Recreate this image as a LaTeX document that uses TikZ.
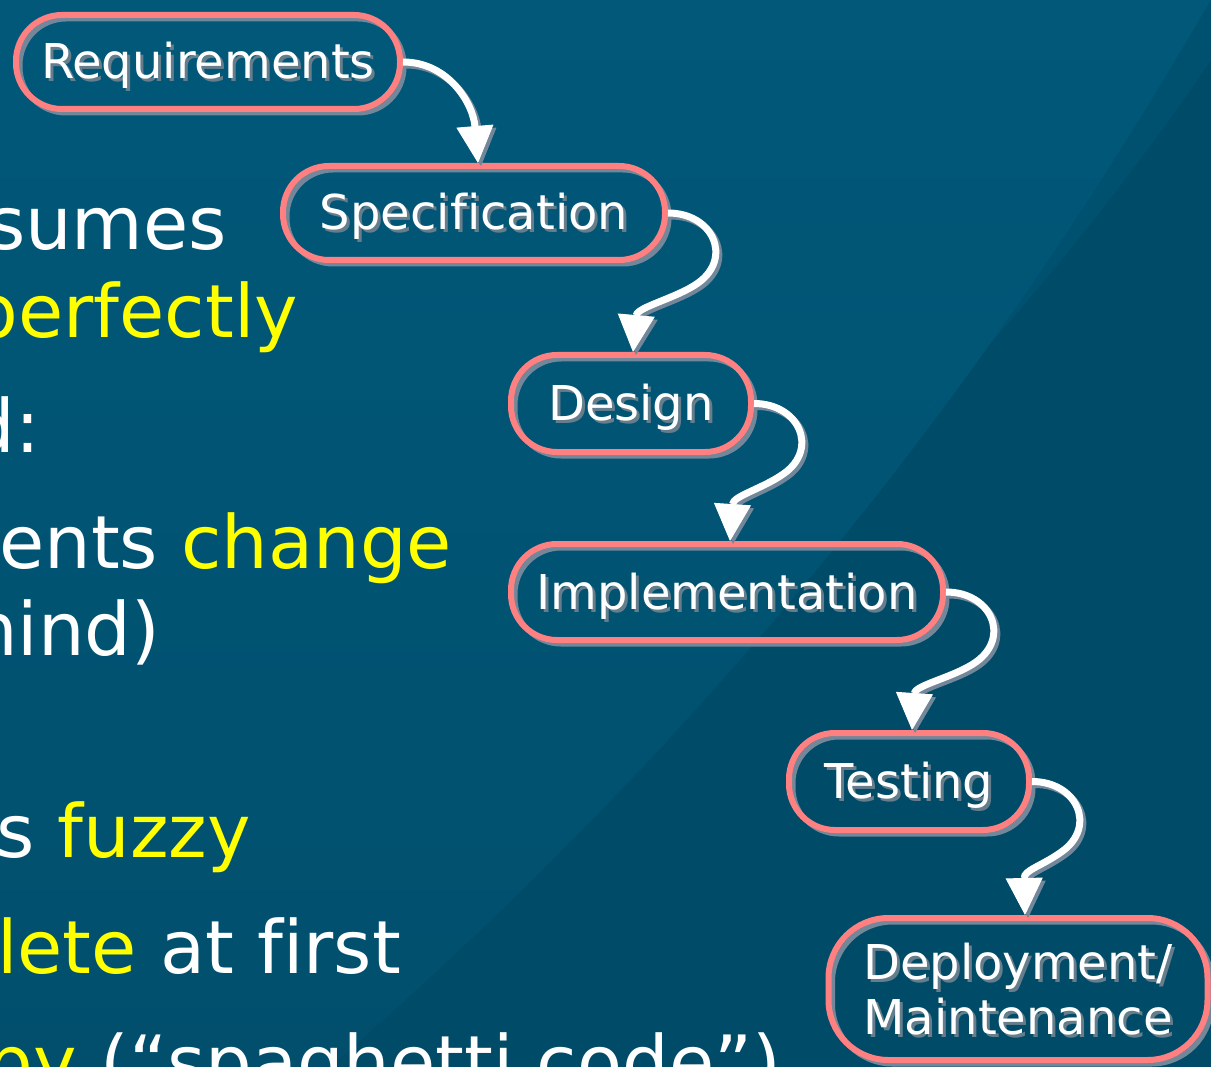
\documentclass[tikz,border=0pt]{standalone}
\usepackage{fontspec}
\setmainfont{DejaVu Sans}[Ligatures=NoCommon]
\usetikzlibrary{arrows.meta,calc}
\definecolor{bgA}{HTML}{015879}
\definecolor{bgC}{HTML}{014F6D}
\definecolor{bgB}{HTML}{004B68}
\definecolor{pinkb}{HTML}{FF8080}
\definecolor{shad}{HTML}{72889A}
\definecolor{tshad}{HTML}{667E8C}
\definecolor{hl}{HTML}{FFFF00}
\newcommand\shtext[1]{\rlap{\smash{\kern3pt\raisebox{-3pt}{\textcolor{tshad}{#1}}}}#1}
\newcommand\stagelink[1]{%
  \draw[linkshadow, transform canvas={shift={(3pt,-3pt)}}] #1;
  \draw[link] #1;}
\begin{document}
\begin{tikzpicture}[x=1pt,y=-1pt,
  stage/.style={draw=pinkb, line width=6pt, rectangle, rounded corners=46pt,
    inner sep=0pt, outer sep=3pt, text=white, align=center,
    font=\fontsize{48}{55}\selectfont, minimum height=94pt,
    preaction={draw=shad, line width=5pt, transform canvas={shift={(4pt,-4pt)}}}},
  oneline/.style={text height=36pt, text depth=2pt},
  bul/.style={anchor=base east, inner sep=0pt, outer sep=0pt,
    font=\fontsize{73.5}{84}\selectfont, text=white},
  link/.style={draw=white, line width=7pt,
    -{Triangle[width=37pt,length=37pt,line width=1pt]}},
  linkshadow/.style={draw=shad, line width=7pt,
    -{Triangle[width=37pt,length=37pt,line width=1pt]}}]
\useasboundingbox (0,0) rectangle (1211,1067);
% background
\shade[top color=bgA, bottom color=bgC] (0,0) rectangle (1211,1067);
\fill[bgB] (1211,0) .. controls (1060,260) and (800,660) .. (330,1067) -- (1211,1067) -- cycle;
\fill[bgA, opacity=0.45] (1211,0) .. controls (1100,190) and (1000,330) .. (900,440)
  .. controls (1010,330) and (1130,180) .. (1211,60) -- cycle;
% left text
\node[bul] (t1) at (227,250) {sumes};
\node[bul, text=hl] (t2) at (298,338) {perfectly};
\node[bul] (t3) at (40,453) {d:};
\node[bul] (t4) at (452,568) {ents \textcolor{hl}{change}};
\node[bul] (t5) at (160,655) {hind)};
\node[bul] (t6) at (251,857) {s \textcolor{hl}{fuzzy}};
\node[bul] (t7) at (401,973) {\textcolor{hl}{lete} at first};
\node[bul] (t8) at (781,1088) {\textcolor{hl}{py} (“spaghetti code”)};
% stages
\node[stage, oneline, minimum width=384pt] (req) at (208,62) {\shtext{Requirements}};
\node[stage, oneline, minimum width=382pt] (spec) at (474,213) {\shtext{Specification}};
\node[stage, oneline, minimum width=240pt, minimum height=97pt] (design) at (631,403.5) {\shtext{Design}};
\node[stage, oneline, minimum width=432pt, minimum height=96pt] (impl) at (727,592) {\shtext{Implementation}};
\node[stage, oneline, minimum width=240pt, minimum height=97pt] (test) at (909,781.5) {\shtext{Testing}};
\node[stage, minimum width=379pt, minimum height=142pt, rounded corners=60pt] (deploy) at (1018,989)
  {\shtext{Deployment/}\\\shtext{Maintenance}};
% connectors
\stagelink{(req.east) .. controls ($(req.east)+(45,0)$) and ($(spec.north)+(-1,-60)$) .. ($(spec.north)+(4,0)$)}
\stagelink{(spec.east) .. controls ($(spec.east)+(45,0)$) and ($(spec.east)+(65,45)$) .. ($(spec.east)+(30,70)$)
  .. controls ($(spec.east)+(9,85)$) and ($(design.north)+(6,-45)$) .. ($(design.north)+(2,0)$)}
\stagelink{(design.east) .. controls ($(design.east)+(45,0)$) and ($(design.east)+(65,45)$) .. ($(design.east)+(30,70)$)
  .. controls ($(design.east)+(9,85)$) and ($(impl.north)+(6,-45)$) .. ($(impl.north)+(3,0)$)}
\stagelink{(impl.east) .. controls ($(impl.east)+(45,0)$) and ($(impl.east)+(65,45)$) .. ($(impl.east)+(30,70)$)
  .. controls ($(impl.east)+(9,85)$) and ($(test.north)+(6,-45)$) .. ($(test.north)+(3,0)$)}
\stagelink{(test.east) .. controls ($(test.east)+(45,0)$) and ($(test.east)+(65,45)$) .. ($(test.east)+(30,70)$)
  .. controls ($(test.east)+(9,85)$) and ($(deploy.north)+(6,-45)$) .. ($(deploy.north)+(7,0)$)}
\end{tikzpicture}
\end{document}
